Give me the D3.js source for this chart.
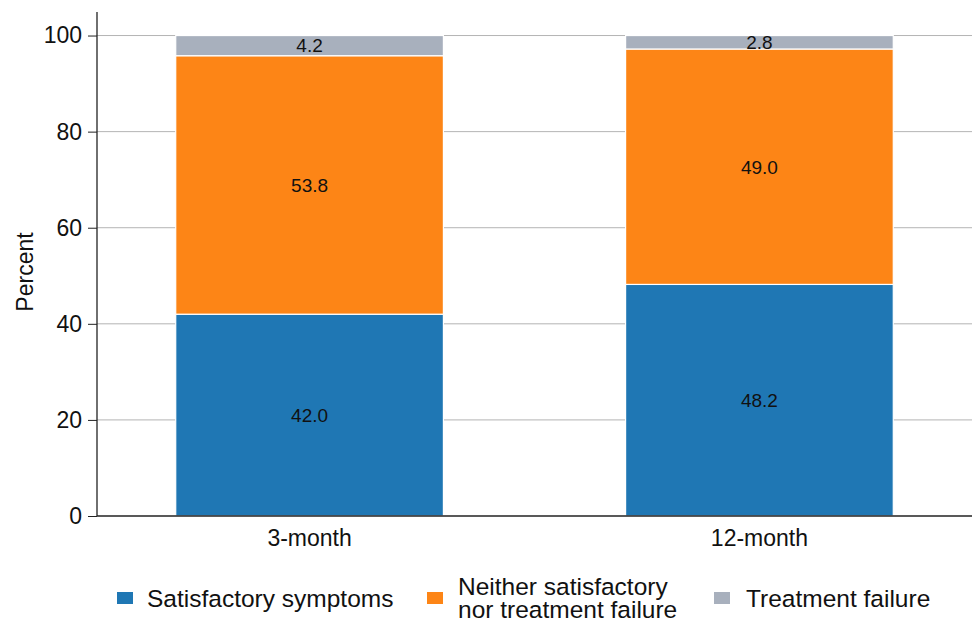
<!DOCTYPE html>
<html>
<head>
<meta charset="utf-8">
<script src="https://cdn.jsdelivr.net/npm/d3@7"></script>
<style>
  body { margin: 0; background: #fff; }
  svg { font-family: Arial, "Liberation Sans", sans-serif; }
</style>
</head>
<body>
<svg id="chart" width="973" height="622"></svg>
<script>
const categories = ['3-month', '12-month']
const seriesNames = ['Satisfactory symptoms', 'Neither satisfactory nor treatment failure', 'Treatment failure']
const satisfactory = [42.0, 48.2]
const neither = [53.8, 49.0]
const failure = [4.2, 2.8]
const yTicks = [0, 20, 40, 60, 80, 100]
const colors = ['#1f77b4', '#fd8516', '#a8b0bd']

const svg = d3.select('#chart')
const plotL = 97, plotR = 972, plotT = 12, plotB = 516
const fontFam = 'Arial, "Liberation Sans", sans-serif'

const rows = categories.map((c, i) => ({
  cat: c,
  s0: satisfactory[i],
  s1: neither[i],
  s2: failure[i],
}))
const stack = d3.stack().keys(['s0', 's1', 's2'])(rows)

const x = d3.scaleBand().domain(categories).range([plotL, plotR])
  .paddingInner(0.405).paddingOuter(0.175)
const y = d3.scaleLinear().domain([0, 104.9]).range([plotB, plotT])

// grid
svg.append('g')
  .selectAll('line')
  .data(yTicks.slice(1))
  .join('line')
  .attr('x1', plotL).attr('x2', plotR)
  .attr('y1', d => y(d)).attr('y2', d => y(d))
  .attr('stroke', '#b4b4b4').attr('stroke-width', 1)

// bars
const layers = svg.append('g')
  .selectAll('g')
  .data(stack)
  .join('g')
  .attr('fill', (d, i) => colors[i])

layers.selectAll('rect')
  .data(d => d)
  .join('rect')
  .attr('x', d => x(d.data.cat))
  .attr('width', x.bandwidth())
  .attr('y', d => y(d[1]))
  .attr('height', d => y(d[0]) - y(d[1]))
  .attr('stroke', '#fff').attr('stroke-width', 1.2)

// value labels
layers.selectAll('text')
  .data(d => d.map(v => ({ v, key: d.key })))
  .join('text')
  .attr('x', d => x(d.v.data.cat) + x.bandwidth() / 2)
  .attr('y', d => y((d.v[0] + d.v[1]) / 2))
  .attr('dy', '0.36em')
  .attr('text-anchor', 'middle')
  .attr('font-size', 19)
  .attr('fill', '#111')
  .text(d => d.v.data[d.key].toFixed(1))

// y axis
const yAxis = svg.append('g')
  .attr('transform', `translate(${plotL},0)`)
  .call(d3.axisLeft(y).tickValues(yTicks).tickSize(9).tickPadding(6))
yAxis.select('.domain').attr('d', `M0,${plotT}V${plotB}`).attr('stroke', '#222').attr('stroke-width', 1.3)
yAxis.selectAll('.tick line').attr('stroke', '#222')
yAxis.selectAll('.tick text').attr('font-size', 23).attr('fill', '#111').attr('font-family', fontFam)

// x axis
const xAxis = svg.append('g')
  .attr('transform', `translate(0,${plotB})`)
  .call(d3.axisBottom(x).tickSize(0).tickPadding(14))
xAxis.select('.domain').attr('d', `M${plotL},0H${plotR}`).attr('stroke', '#222').attr('stroke-width', 1.3)
xAxis.selectAll('.tick text').attr('font-size', 23).attr('fill', '#111').attr('font-family', fontFam)

// y title
svg.append('text')
  .attr('transform', `translate(33,${(plotT + plotB) / 2 + 8}) rotate(-90)`)
  .attr('text-anchor', 'middle')
  .attr('font-size', 23)
  .attr('fill', '#111')
  .text('Percent')

// legend
const legendItems = [
  { sx: 117, tx: 147, lines: ['Satisfactory symptoms'] },
  { sx: 427, tx: 458, lines: ['Neither satisfactory', 'nor treatment failure'] },
  { sx: 714, tx: 746, lines: ['Treatment failure'] },
]
const legend = svg.append('g')
legendItems.forEach((it, i) => {
  legend.append('rect')
    .attr('x', it.sx).attr('y', 592)
    .attr('width', 16).attr('height', 12)
    .attr('fill', colors[i])
  const n = it.lines.length
  it.lines.forEach((ln, j) => {
    legend.append('text')
      .attr('font-size', 24.5)
      .attr('fill', '#111')
      .attr('x', it.tx)
      .attr('y', 606.5 + (j - (n - 1) / 2) * 23.5)
      .text(ln)
  })
})
</script>
</body>
</html>
